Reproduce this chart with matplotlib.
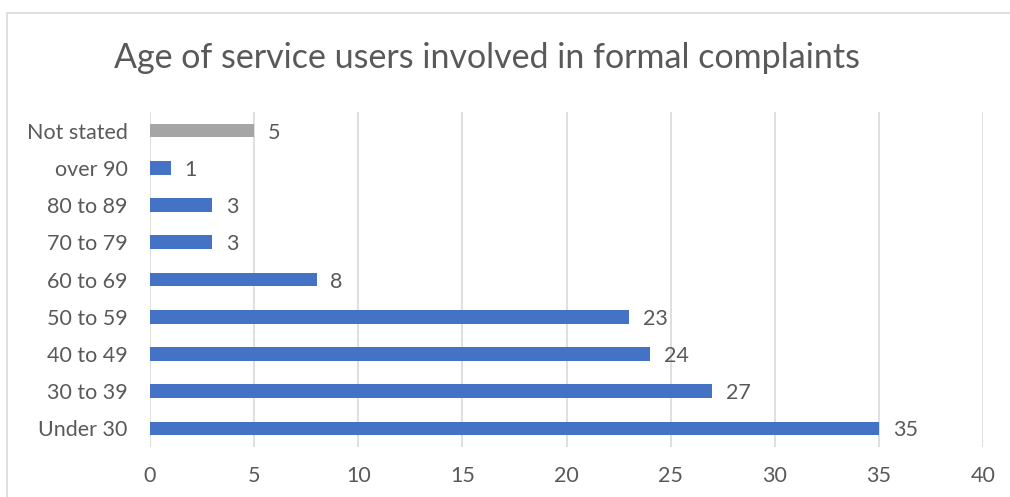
import matplotlib
matplotlib.use("Agg")
import matplotlib.pyplot as plt
from matplotlib.patches import Rectangle

categories = ["Under 30", "30 to 39", "40 to 49", "50 to 59", "60 to 69",
              "70 to 79", "80 to 89", "over 90", "Not stated"]
values = [35, 27, 24, 23, 8, 3, 3, 1, 5]
colors = ["#4472C4"] * 8 + ["#A5A5A5"]
xticks = [0, 5, 10, 15, 20, 25, 30, 35, 40]
title = "Age of service users involved in formal complaints"

plt.rcParams['font.family'] = ['Lato', 'DejaVu Sans']
txt = "#595959"

fig = plt.figure(figsize=(10.10, 4.97), dpi=100)
fig.patches.append(Rectangle((7/1010, -0.1), 1.2, 1 - 13/497 + 0.1,
                             transform=fig.transFigure, fill=False,
                             edgecolor="#D9D9D9", linewidth=1.2))
ax = fig.add_axes([150/1010, 1 - 447/497, (983 - 150)/1010, (447 - 112)/497])

y = list(range(len(categories)))
ax.barh(y, values, height=0.37, color=colors, zorder=3)
for yi, v in zip(y, values):
    ax.annotate(str(v), (v, yi), xytext=(10, -1.5), textcoords="offset points",
                va="center", ha="left", fontsize=15.5, color=txt)

ax.set_xlim(0, 40)
ax.set_ylim(-0.5, len(categories) - 0.5)
ax.set_xticks(xticks)
ax.set_xticklabels([str(t) for t in xticks])
ax.set_yticks(y)
ax.set_yticklabels(categories)
ax.grid(axis="x", color="#D9D9D9", linewidth=1.2, zorder=0)
for s in ax.spines.values():
    s.set_visible(False)
ax.tick_params(axis="both", length=0, labelsize=15.5, colors=txt)
ax.tick_params(axis="x", pad=13.5)
ax.tick_params(axis="y", pad=16)

fig.text(487/1010, 1 - 58/497, title, ha="center", va="center",
         fontsize=24.5, color=txt)

fig.savefig("out.png", dpi=100)
